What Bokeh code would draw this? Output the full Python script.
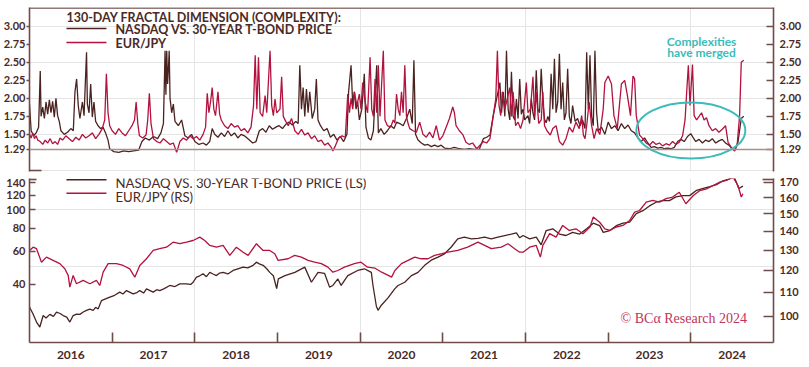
from bokeh.plotting import figure
from bokeh.layouts import column
from bokeh.models import (Range1d, LinearAxis, LogAxis, LogScale, FixedTicker, Label, Span,
                          PrintfTickFormatter)
from bokeh.embed import file_html
from bokeh.resources import INLINE

# ---------------- DATA (decimal year, value) ----------------
# Top panel: 130-day fractal dimension
nasdaq_cx = [
    (2016.00, 1.92), (2016.02, 1.55), (2016.05, 1.48), (2016.08, 1.52), (2016.11, 1.60), (2016.13, 2.38),
    (2016.14, 1.75), (2016.16, 1.88), (2016.18, 1.72), (2016.20, 1.95), (2016.22, 1.78), (2016.24, 1.98),
    (2016.26, 1.80), (2016.28, 1.96), (2016.30, 1.74), (2016.32, 2.00), (2016.34, 1.76), (2016.36, 1.68),
    (2016.38, 1.55), (2016.42, 1.50), (2016.46, 1.53), (2016.50, 1.58), (2016.53, 1.55), (2016.55, 2.09),
    (2016.57, 2.27), (2016.59, 1.90), (2016.61, 1.72), (2016.64, 1.95), (2016.66, 1.76), (2016.69, 2.64),
    (2016.70, 1.92), (2016.72, 1.80), (2016.74, 2.20), (2016.76, 1.74), (2016.78, 1.95), (2016.80, 1.68),
    (2016.83, 1.62), (2016.86, 1.58), (2016.89, 1.60), (2016.92, 1.52), (2016.95, 1.42), (2016.97, 1.30),
    (2017.02, 1.26), (2017.08, 1.25), (2017.14, 1.27), (2017.20, 1.26), (2017.26, 1.27), (2017.32, 1.28),
    (2017.36, 1.40), (2017.40, 1.45), (2017.45, 1.42), (2017.50, 1.47), (2017.55, 1.44), (2017.59, 1.52),
    (2017.62, 1.65), (2017.64, 2.66), (2017.65, 2.05), (2017.66, 2.66), (2017.67, 2.20), (2017.68, 2.40),
    (2017.69, 2.66), (2017.70, 2.00), (2017.72, 1.80), (2017.74, 1.92), (2017.76, 1.68), (2017.80, 1.62),
    (2017.84, 1.70), (2017.88, 1.48), (2017.92, 1.45), (2017.96, 1.50), (2018.00, 1.40), (2018.05, 1.36),
    (2018.10, 1.38), (2018.14, 1.35), (2018.18, 1.40), (2018.21, 1.58), (2018.24, 1.50), (2018.28, 1.46),
    (2018.32, 1.52), (2018.36, 1.47), (2018.40, 1.55), (2018.44, 1.48), (2018.48, 1.52), (2018.52, 1.45),
    (2018.56, 1.50), (2018.60, 1.48), (2018.66, 1.42), (2018.70, 1.38), (2018.74, 1.40), (2018.78, 1.55),
    (2018.82, 1.58), (2018.86, 1.53), (2018.90, 1.62), (2018.94, 1.57), (2018.98, 1.60), (2019.02, 1.62),
    (2019.06, 1.58), (2019.10, 1.64), (2019.14, 1.67), (2019.18, 1.63), (2019.22, 1.68), (2019.25, 1.65),
    (2019.27, 2.46), (2019.29, 1.85), (2019.31, 2.15), (2019.33, 1.75), (2019.35, 2.13), (2019.37, 1.80),
    (2019.39, 2.09), (2019.42, 1.72), (2019.45, 1.85), (2019.47, 2.27), (2019.49, 1.70), (2019.52, 1.62),
    (2019.56, 1.55), (2019.60, 1.58), (2019.64, 1.46), (2019.68, 1.50), (2019.72, 1.42), (2019.76, 1.47),
    (2019.80, 1.40), (2019.84, 1.50), (2019.86, 2.09), (2019.89, 2.46), (2019.91, 1.90), (2019.93, 2.09),
    (2019.95, 1.85), (2019.97, 1.95), (2019.99, 1.70), (2020.02, 1.85), (2020.05, 2.34), (2020.07, 1.60),
    (2020.10, 1.45), (2020.13, 1.42), (2020.16, 1.55), (2020.20, 2.46), (2020.22, 1.52), (2020.25, 1.58),
    (2020.29, 1.50), (2020.33, 1.55), (2020.37, 1.62), (2020.41, 1.58), (2020.44, 1.67), (2020.48, 1.65),
    (2020.52, 1.62), (2020.56, 1.72), (2020.60, 1.85), (2020.63, 1.65), (2020.65, 2.53), (2020.67, 1.50),
    (2020.70, 1.42), (2020.74, 1.38), (2020.78, 1.35), (2020.82, 1.36), (2020.86, 1.33), (2020.90, 1.35),
    (2020.94, 1.33), (2020.98, 1.35), (2021.02, 1.31), (2021.08, 1.30), (2021.14, 1.32), (2021.20, 1.30),
    (2021.26, 1.29), (2021.32, 1.30), (2021.38, 1.29), (2021.44, 1.29), (2021.49, 1.44), (2021.53, 1.46),
    (2021.57, 1.49), (2021.61, 1.76), (2021.65, 1.99), (2021.69, 2.22), (2021.71, 1.80), (2021.73, 2.09),
    (2021.75, 1.75), (2021.77, 2.66), (2021.79, 1.85), (2021.81, 1.70), (2021.83, 2.37), (2021.85, 1.75),
    (2021.87, 1.70), (2021.89, 1.99), (2021.91, 1.72), (2021.93, 2.27), (2021.95, 1.78), (2021.97, 1.85),
    (2021.99, 1.70), (2022.03, 1.76), (2022.05, 1.65), (2022.07, 1.99), (2022.09, 1.80), (2022.11, 1.70),
    (2022.13, 2.39), (2022.15, 1.85), (2022.17, 1.80), (2022.19, 2.41), (2022.21, 1.95), (2022.23, 1.71),
    (2022.25, 1.66), (2022.27, 1.75), (2022.29, 1.68), (2022.31, 2.34), (2022.33, 1.85), (2022.35, 2.55),
    (2022.37, 1.80), (2022.39, 1.95), (2022.41, 2.62), (2022.43, 1.85), (2022.45, 2.22), (2022.47, 1.70),
    (2022.49, 1.80), (2022.51, 2.41), (2022.53, 1.75), (2022.55, 1.65), (2022.57, 1.90), (2022.60, 1.68),
    (2022.63, 1.72), (2022.66, 1.62), (2022.69, 1.70), (2022.72, 1.58), (2022.74, 2.64), (2022.76, 1.85),
    (2022.78, 2.60), (2022.80, 1.75), (2022.82, 1.62), (2022.84, 2.66), (2022.86, 1.80), (2022.88, 1.55),
    (2022.92, 1.60), (2022.96, 1.50), (2023.00, 1.67), (2023.04, 1.58), (2023.08, 1.62), (2023.12, 1.55),
    (2023.16, 1.65), (2023.20, 1.58), (2023.24, 1.63), (2023.28, 1.55), (2023.32, 1.52), (2023.36, 1.45),
    (2023.40, 1.40), (2023.44, 1.45), (2023.48, 1.38), (2023.52, 1.32), (2023.56, 1.33), (2023.60, 1.31),
    (2023.64, 1.32), (2023.68, 1.30), (2023.72, 1.31), (2023.76, 1.30), (2023.80, 1.32), (2023.84, 1.40),
    (2023.88, 1.43), (2023.92, 1.40), (2023.96, 1.47), (2024.00, 1.51), (2024.03, 1.45), (2024.06, 1.40),
    (2024.10, 1.43), (2024.14, 1.38), (2024.18, 1.42), (2024.22, 1.40), (2024.26, 1.44), (2024.30, 1.38),
    (2024.34, 1.41), (2024.38, 1.43), (2024.42, 1.38), (2024.46, 1.35), (2024.50, 1.30), (2024.53, 1.28),
    (2024.57, 1.39), (2024.61, 1.72), (2024.64, 1.75),
]

eurjpy_cx = [
    (2016.00, 1.50), (2016.02, 1.45), (2016.04, 1.52), (2016.06, 1.44), (2016.08, 1.48), (2016.10, 1.42),
    (2016.13, 1.40), (2016.16, 1.36), (2016.19, 1.42), (2016.22, 1.38), (2016.25, 1.44), (2016.28, 1.37),
    (2016.31, 1.40), (2016.34, 1.36), (2016.37, 1.45), (2016.40, 1.42), (2016.44, 1.48), (2016.48, 1.44),
    (2016.52, 1.40), (2016.56, 1.46), (2016.60, 1.42), (2016.64, 1.50), (2016.68, 1.45), (2016.72, 1.48),
    (2016.76, 1.52), (2016.80, 1.44), (2016.84, 1.50), (2016.88, 1.58), (2016.91, 1.70), (2016.93, 2.34),
    (2016.95, 1.80), (2016.97, 1.62), (2017.00, 1.55), (2017.04, 1.50), (2017.08, 1.58), (2017.12, 1.52),
    (2017.16, 1.48), (2017.20, 1.55), (2017.24, 1.62), (2017.27, 1.70), (2017.29, 1.95), (2017.31, 1.65),
    (2017.33, 1.48), (2017.37, 1.45), (2017.41, 1.49), (2017.43, 1.70), (2017.45, 2.07), (2017.47, 1.65),
    (2017.50, 1.44), (2017.54, 1.40), (2017.58, 1.38), (2017.62, 1.44), (2017.66, 1.40), (2017.70, 1.36),
    (2017.74, 1.38), (2017.78, 1.25), (2017.82, 1.40), (2017.86, 1.45), (2017.90, 1.42), (2017.94, 1.48),
    (2017.98, 1.44), (2018.02, 1.47), (2018.06, 1.42), (2018.10, 1.50), (2018.13, 1.60), (2018.15, 2.07),
    (2018.17, 1.80), (2018.19, 1.95), (2018.21, 2.15), (2018.23, 1.85), (2018.25, 1.76), (2018.28, 2.09),
    (2018.30, 1.78), (2018.32, 1.70), (2018.36, 1.62), (2018.40, 1.58), (2018.44, 1.65), (2018.48, 1.60),
    (2018.52, 1.62), (2018.56, 1.55), (2018.60, 1.58), (2018.64, 1.52), (2018.68, 1.60), (2018.71, 1.90),
    (2018.73, 2.60), (2018.75, 1.85), (2018.77, 2.57), (2018.79, 1.80), (2018.82, 1.75), (2018.85, 2.04),
    (2018.87, 1.80), (2018.91, 2.66), (2018.93, 1.90), (2018.95, 1.76), (2018.97, 1.99), (2018.99, 1.80),
    (2019.03, 1.85), (2019.05, 2.30), (2019.07, 1.75), (2019.10, 1.68), (2019.13, 1.62), (2019.17, 1.72),
    (2019.21, 1.55), (2019.25, 1.50), (2019.29, 1.57), (2019.33, 1.49), (2019.37, 1.52), (2019.41, 1.44),
    (2019.45, 1.48), (2019.49, 1.40), (2019.53, 1.42), (2019.57, 1.35), (2019.61, 1.38), (2019.65, 1.32),
    (2019.67, 1.27), (2019.70, 1.34), (2019.74, 1.45), (2019.78, 1.48), (2019.82, 1.46), (2019.85, 2.06),
    (2019.87, 1.80), (2019.89, 2.00), (2019.91, 1.85), (2019.93, 2.09), (2019.96, 1.90), (2019.99, 2.06),
    (2020.01, 1.85), (2020.03, 2.22), (2020.06, 1.95), (2020.09, 1.80), (2020.12, 2.57), (2020.14, 1.85),
    (2020.16, 1.75), (2020.18, 2.27), (2020.20, 1.80), (2020.22, 2.46), (2020.24, 1.75), (2020.28, 2.66),
    (2020.30, 1.70), (2020.33, 1.62), (2020.37, 1.60), (2020.40, 1.70), (2020.42, 1.66), (2020.44, 2.06),
    (2020.46, 1.85), (2020.48, 1.76), (2020.50, 2.09), (2020.52, 1.80), (2020.54, 2.46), (2020.56, 1.75),
    (2020.58, 1.65), (2020.60, 1.58), (2020.64, 1.55), (2020.68, 1.53), (2020.72, 1.67), (2020.76, 1.50),
    (2020.80, 1.46), (2020.84, 1.53), (2020.88, 1.45), (2020.92, 1.62), (2020.96, 1.42), (2021.00, 1.48),
    (2021.04, 1.60), (2021.08, 1.72), (2021.12, 1.88), (2021.14, 1.80), (2021.16, 1.62), (2021.20, 1.55),
    (2021.24, 1.50), (2021.28, 1.39), (2021.32, 1.36), (2021.36, 1.38), (2021.41, 1.30), (2021.45, 1.35),
    (2021.49, 1.40), (2021.53, 1.38), (2021.57, 1.44), (2021.61, 1.76), (2021.64, 1.99), (2021.66, 2.66),
    (2021.68, 1.90), (2021.70, 1.76), (2021.72, 2.09), (2021.75, 1.85), (2021.78, 2.00), (2021.81, 2.15),
    (2021.83, 1.75), (2021.85, 2.09), (2021.88, 1.62), (2021.91, 1.67), (2021.94, 1.58), (2021.97, 1.70),
    (2022.01, 2.22), (2022.03, 1.80), (2022.06, 1.85), (2022.09, 2.30), (2022.11, 1.75), (2022.13, 2.09),
    (2022.16, 1.65), (2022.19, 1.70), (2022.21, 2.09), (2022.23, 1.62), (2022.26, 1.55), (2022.30, 1.49),
    (2022.33, 1.58), (2022.37, 1.62), (2022.41, 1.40), (2022.45, 1.35), (2022.49, 1.44), (2022.53, 1.60),
    (2022.57, 1.53), (2022.61, 1.67), (2022.65, 1.58), (2022.68, 1.76), (2022.70, 1.49), (2022.72, 1.44),
    (2022.74, 1.62), (2022.77, 1.95), (2022.80, 1.62), (2022.83, 1.44), (2022.86, 1.58), (2022.90, 1.50),
    (2022.94, 1.85), (2022.96, 2.22), (2023.00, 2.31), (2023.04, 2.20), (2023.07, 1.76), (2023.11, 1.58),
    (2023.16, 2.20), (2023.20, 2.25), (2023.23, 2.06), (2023.27, 1.76), (2023.30, 2.31), (2023.32, 2.27),
    (2023.34, 1.76), (2023.38, 1.49), (2023.42, 1.44), (2023.46, 1.38), (2023.50, 1.35), (2023.54, 1.40),
    (2023.58, 1.36), (2023.62, 1.38), (2023.66, 1.34), (2023.70, 1.37), (2023.74, 1.35), (2023.78, 1.40),
    (2023.82, 1.36), (2023.86, 1.39), (2023.90, 1.48), (2023.93, 1.70), (2023.95, 2.09), (2023.97, 2.46),
    (2023.99, 1.90), (2024.02, 2.47), (2024.04, 1.76), (2024.07, 1.70), (2024.10, 1.75), (2024.13, 1.80),
    (2024.16, 1.70), (2024.19, 1.73), (2024.22, 1.62), (2024.26, 1.55), (2024.30, 1.58), (2024.34, 1.53),
    (2024.38, 1.57), (2024.42, 1.62), (2024.45, 1.39), (2024.50, 1.30), (2024.53, 1.27), (2024.56, 1.35),
    (2024.59, 1.76), (2024.61, 2.50), (2024.64, 2.53),
]

# Bottom panel: Nasdaq vs. 30-year T-bond price (left scale, log)
nasdaq_ratio = [
    (2016.00, 30.3), (2016.04, 28.0), (2016.085, 25.2), (2016.125, 23.7), (2016.165, 27.3), (2016.20, 26.5),
    (2016.246, 27.7), (2016.29, 27.0), (2016.327, 28.5), (2016.37, 28.0), (2016.407, 27.3), (2016.45, 26.8),
    (2016.488, 25.2), (2016.528, 27.3), (2016.57, 27.8), (2016.609, 27.7), (2016.65, 28.5), (2016.689, 29.1),
    (2016.73, 29.5), (2016.77, 29.1), (2016.80, 30.2), (2016.83, 29.6), (2016.871, 32.8), (2016.92, 33.5),
    (2016.972, 34.2), (2017.03, 35.0), (2017.092, 36.4), (2017.13, 35.6), (2017.173, 37.1), (2017.254, 35.6),
    (2017.30, 36.2), (2017.334, 37.1), (2017.38, 36.0), (2017.415, 37.9), (2017.496, 36.4), (2017.54, 37.5),
    (2017.576, 37.1), (2017.63, 38.0), (2017.697, 39.5), (2017.76, 39.0), (2017.818, 40.3), (2017.899, 40.3),
    (2017.95, 40.0), (2017.979, 41.1), (2018.02, 43.8), (2018.06, 44.5), (2018.10, 45.6), (2018.14, 44.0),
    (2018.181, 46.4), (2018.22, 45.5), (2018.261, 44.6), (2018.30, 46.0), (2018.342, 46.4), (2018.40, 45.5),
    (2018.463, 47.5), (2018.52, 48.5), (2018.584, 49.5), (2018.64, 49.0), (2018.705, 50.6), (2018.745, 52.6),
    (2018.78, 51.5), (2018.826, 50.6), (2018.87, 48.5), (2018.906, 46.4), (2018.95, 44.5), (2018.99, 38.0),
    (2019.01, 42.8), (2019.09, 44.6), (2019.21, 46.4), (2019.33, 49.5), (2019.41, 41.1), (2019.49, 46.4),
    (2019.57, 45.8), (2019.63, 38.7), (2019.67, 39.5), (2019.73, 42.8), (2019.77, 39.5), (2019.85, 44.6),
    (2019.97, 47.5), (2020.05, 48.5), (2020.135, 46.4), (2020.155, 39.5), (2020.196, 30.6), (2020.216, 29.1),
    (2020.256, 31.0), (2020.337, 33.9), (2020.418, 37.9), (2020.458, 39.5), (2020.539, 41.1), (2020.62, 44.6),
    (2020.70, 46.4), (2020.78, 50.6), (2020.86, 53.9), (2020.942, 56.0), (2021.02, 58.3), (2021.10, 63.2),
    (2021.18, 70.1), (2021.26, 71.5), (2021.345, 70.1), (2021.425, 70.5), (2021.505, 71.5), (2021.586, 70.1),
    (2021.667, 71.5), (2021.748, 72.9), (2021.828, 74.3), (2021.89, 75.5), (2021.93, 71.0), (2021.97, 73.0),
    (2022.05, 70.1), (2022.13, 71.5), (2022.19, 65.1), (2022.25, 77.6), (2022.33, 79.3), (2022.41, 74.3),
    (2022.49, 73.0), (2022.57, 75.9), (2022.655, 74.3), (2022.74, 79.3), (2022.82, 84.9), (2022.897, 82.4),
    (2022.94, 75.9), (2023.02, 77.6), (2023.098, 82.4), (2023.18, 84.9), (2023.26, 86.1), (2023.34, 95.6),
    (2023.42, 99.0), (2023.50, 105.0), (2023.58, 109.9), (2023.66, 112.1), (2023.74, 112.1), (2023.82, 117.3),
    (2023.905, 119.2), (2023.985, 119.2), (2024.07, 127.2), (2024.15, 130.4), (2024.23, 133.1), (2024.31, 136.3),
    (2024.39, 143.0), (2024.47, 146.5), (2024.52, 152.0), (2024.58, 130.0), (2024.63, 134.0),
]

# Bottom panel: EUR/JPY (right scale, log)
eurjpy = [
    (2016.00, 129.8), (2016.044, 131.5), (2016.085, 130.7), (2016.145, 123.9), (2016.205, 126.4),
    (2016.286, 124.8), (2016.367, 123.2), (2016.427, 120.7), (2016.468, 117.6), (2016.488, 112.3),
    (2016.528, 117.6), (2016.568, 113.8), (2016.649, 115.3), (2016.73, 113.8), (2016.81, 115.3),
    (2016.85, 113.0), (2016.891, 119.1), (2016.951, 123.2), (2017.052, 123.2), (2017.133, 122.3),
    (2017.213, 120.7), (2017.274, 116.8), (2017.334, 122.3), (2017.415, 125.6), (2017.496, 129.8),
    (2017.576, 130.7), (2017.657, 131.5), (2017.737, 134.1), (2017.818, 133.3), (2017.899, 134.1),
    (2017.979, 135.0), (2018.06, 136.8), (2018.12, 135.0), (2018.181, 132.4), (2018.261, 131.5),
    (2018.342, 132.4), (2018.423, 127.3), (2018.503, 131.5), (2018.584, 128.9), (2018.645, 127.3),
    (2018.745, 133.3), (2018.826, 129.8), (2018.906, 129.8), (2018.967, 128.1), (2019.007, 124.8),
    (2019.128, 125.6), (2019.208, 127.3), (2019.289, 126.4), (2019.37, 124.8), (2019.45, 123.9),
    (2019.53, 123.2), (2019.61, 121.5), (2019.67, 119.1), (2019.73, 119.9), (2019.81, 121.5),
    (2019.93, 123.2), (2020.01, 123.9), (2020.09, 121.5), (2020.18, 121.0), (2020.26, 119.1),
    (2020.34, 117.6), (2020.38, 116.8), (2020.42, 119.9), (2020.50, 123.2), (2020.58, 124.8),
    (2020.66, 126.4), (2020.74, 125.6), (2020.82, 125.6), (2020.90, 127.3), (2020.98, 128.1),
    (2021.06, 128.9), (2021.18, 129.8), (2021.30, 131.5), (2021.425, 134.1), (2021.506, 132.4),
    (2021.586, 130.7), (2021.707, 131.5), (2021.788, 133.3), (2021.869, 130.7), (2021.93, 128.9),
    (2021.97, 128.9), (2022.05, 131.5), (2022.13, 132.4), (2022.18, 126.4), (2022.21, 132.4),
    (2022.292, 138.7), (2022.37, 136.8), (2022.45, 143.3), (2022.53, 140.5), (2022.61, 141.4),
    (2022.695, 138.7), (2022.78, 142.4), (2022.82, 148.1), (2022.897, 145.1), (2022.96, 141.4),
    (2023.02, 140.5), (2023.098, 142.4), (2023.18, 143.3), (2023.26, 146.1), (2023.32, 151.0),
    (2023.38, 152.0), (2023.46, 157.1), (2023.54, 158.2), (2023.62, 157.1), (2023.70, 159.3),
    (2023.78, 160.3), (2023.86, 163.4), (2023.94, 156.1), (2024.03, 161.3), (2024.11, 164.5),
    (2024.19, 165.6), (2024.27, 167.8), (2024.35, 170.0), (2024.43, 171.2), (2024.51, 173.4),
    (2024.57, 167.8), (2024.61, 160.3), (2024.63, 162.4),
]

top_ticks = [1.29, 1.50, 1.75, 2.00, 2.25, 2.50, 2.75, 3.00]
ls_ticks = [40, 60, 80, 100, 120, 140]
rs_ticks = [100, 110, 120, 130, 140, 150, 160, 170]
years = [2016, 2017, 2018, 2019, 2020, 2021, 2022, 2023, 2024]

# ---------------- STYLE ----------------
BROWN = "#4a2320"
RED = "#b3123f"
AXIS = "#6f4c47"
TEXT = "#4a2a26"
BASE = "#a78f8b"
TEAL = "#3bbcbb"
COPY = "#c0355a"
FONT = "Lato"
FW = 744
LB, RB = 26, 31


def style_axis(ax, tin, tout, standoff):
    ax.axis_line_color = AXIS
    ax.axis_line_width = 1.6
    ax.major_tick_line_color = AXIS
    ax.major_tick_line_width = 1.6
    ax.minor_tick_line_color = AXIS
    ax.minor_tick_line_width = 1.6
    ax.major_tick_in = tin
    ax.major_tick_out = tout
    ax.minor_tick_in = 0
    ax.minor_tick_out = 0
    ax.major_label_standoff = standoff
    ax.major_label_text_font = FONT
    ax.major_label_text_font_style = "bold"
    ax.major_label_text_font_size = "11px"
    ax.major_label_text_color = TEXT


# ---------------- TOP PANEL ----------------
top = figure(frame_width=FW, frame_height=164, x_range=Range1d(2016.0, 2025.0),
             y_range=Range1d(0.984, 3.262), x_axis_location=None, y_axis_location=None,
             output_backend="svg", toolbar_location=None,
             min_border_left=LB, min_border_right=RB, min_border_top=7, min_border_bottom=1)
top.outline_line_color = None

tl = LinearAxis(ticker=FixedTicker(ticks=top_ticks, minor_ticks=[0.995]),
                formatter=PrintfTickFormatter(format="%.2f"))
style_axis(tl, 0, 3, 1)
tl.minor_tick_in = 12
top.add_layout(tl, "left")
tr = LinearAxis(ticker=FixedTicker(ticks=top_ticks), formatter=PrintfTickFormatter(format="%.2f"))
style_axis(tr, 7, 0, 6)
top.add_layout(tr, "right")

top.add_layout(Span(location=3.255, dimension="width", line_color=AXIS, line_width=1.6))
top.add_layout(Span(location=1.29, dimension="width", line_color=BASE, line_width=1.5))

top.line([p[0] for p in nasdaq_cx], [p[1] for p in nasdaq_cx], line_color=BROWN, line_width=1.3)
top.line([p[0] for p in eurjpy_cx], [p[1] for p in eurjpy_cx], line_color=RED, line_width=1.3)

# legend (top)
top.segment(x0=[2016.447, 2016.447], y0=[2.971, 2.776], x1=[2016.931, 2016.931], y1=[2.971, 2.776],
            line_color=[BROWN, RED], line_width=1.6)
top.add_layout(Label(x=2016.447, y=3.13, text="130-DAY FRACTAL DIMENSION (COMPLEXITY):",
                     text_font=FONT, text_font_style="bold", text_font_size="12.5px",
                     text_color=TEXT, text_baseline="middle"))
for txt, yy in [("NASDAQ VS. 30-YEAR T-BOND PRICE", 2.957), ("EUR/JPY", 2.762)]:
    top.add_layout(Label(x=2017.04, y=yy, text=txt, text_font=FONT, text_font_style="bold",
                         text_font_size="12.5px", text_color=TEXT, text_baseline="middle"))

# annotation
top.ellipse(x=[2024.0], y=[1.554], width=[1.318], height=[0.778], fill_color=None,
            line_color=TEAL, line_width=2)
for txt, yy in [("Complexities", 2.79), ("have merged", 2.637)]:
    top.add_layout(Label(x=2024.13, y=yy, text=txt, text_font=FONT, text_font_style="bold",
                         text_font_size="12px", text_color=TEAL, text_align="center",
                         text_baseline="middle"))

# ---------------- BOTTOM PANEL ----------------
bot = figure(frame_width=FW, frame_height=164, x_range=top.x_range,
             y_range=Range1d(19.6, 147.1), y_axis_type="log",
             x_axis_location=None, y_axis_location=None,
             output_backend="svg", toolbar_location=None,
             min_border_left=LB, min_border_right=RB, min_border_top=6, min_border_bottom=4)
bot.outline_line_color = None
bot.extra_y_ranges = {"rs": Range1d(90.2, 172.5)}
bot.extra_y_scales = {"rs": LogScale()}

bl = LogAxis(ticker=FixedTicker(ticks=ls_ticks, minor_ticks=[146.0]),
             formatter=PrintfTickFormatter(format="%d"))
style_axis(bl, 6, 0, 4)
bl.minor_tick_in = 7
bot.add_layout(bl, "left")
br = LogAxis(y_range_name="rs", ticker=FixedTicker(ticks=rs_ticks, minor_ticks=[171.8]),
             formatter=PrintfTickFormatter(format="%d"))
style_axis(br, 10, 0, 6)
br.minor_tick_in = 11
bot.add_layout(br, "right")

bx = LinearAxis(ticker=FixedTicker(ticks=[y + 0.5 for y in years], minor_ticks=years[1:]),
                major_label_overrides={y + 0.5: str(y) for y in years})
style_axis(bx, 0, 0, 8)
bx.major_tick_line_color = None
bx.minor_tick_in = 10
bx.major_label_text_font_size = "12px"
bot.add_layout(bx, "below")

bot.line([p[0] for p in nasdaq_ratio], [p[1] for p in nasdaq_ratio], line_color=BROWN, line_width=1.3)
bot.line([p[0] for p in eurjpy], [p[1] for p in eurjpy], line_color=RED, line_width=1.3,
         y_range_name="rs")

bot.segment(x0=[2016.447, 2016.447], y0=[144.8, 122.8], x1=[2016.931, 2016.931], y1=[144.8, 122.8],
            line_color=[BROWN, RED], line_width=1.6)
for txt, yy in [("NASDAQ VS. 30-YEAR T-BOND PRICE (LS)", 140.0), ("EUR/JPY (RS)", 116.5)]:
    bot.add_layout(Label(x=2017.04, y=yy, text=txt, text_font=FONT,
                         text_font_size="13.2px", text_color=TEXT, text_baseline="middle"))
bot.add_layout(Label(x=2024.68, y=26.3, text="© BCα Research 2024", text_font="Liberation Serif",
                     text_font_size="14px", text_color=COPY, text_align="right",
                     text_baseline="middle"))

layout = column(top, bot, spacing=0)
open("out.html", "w").write(file_html(layout, INLINE))
